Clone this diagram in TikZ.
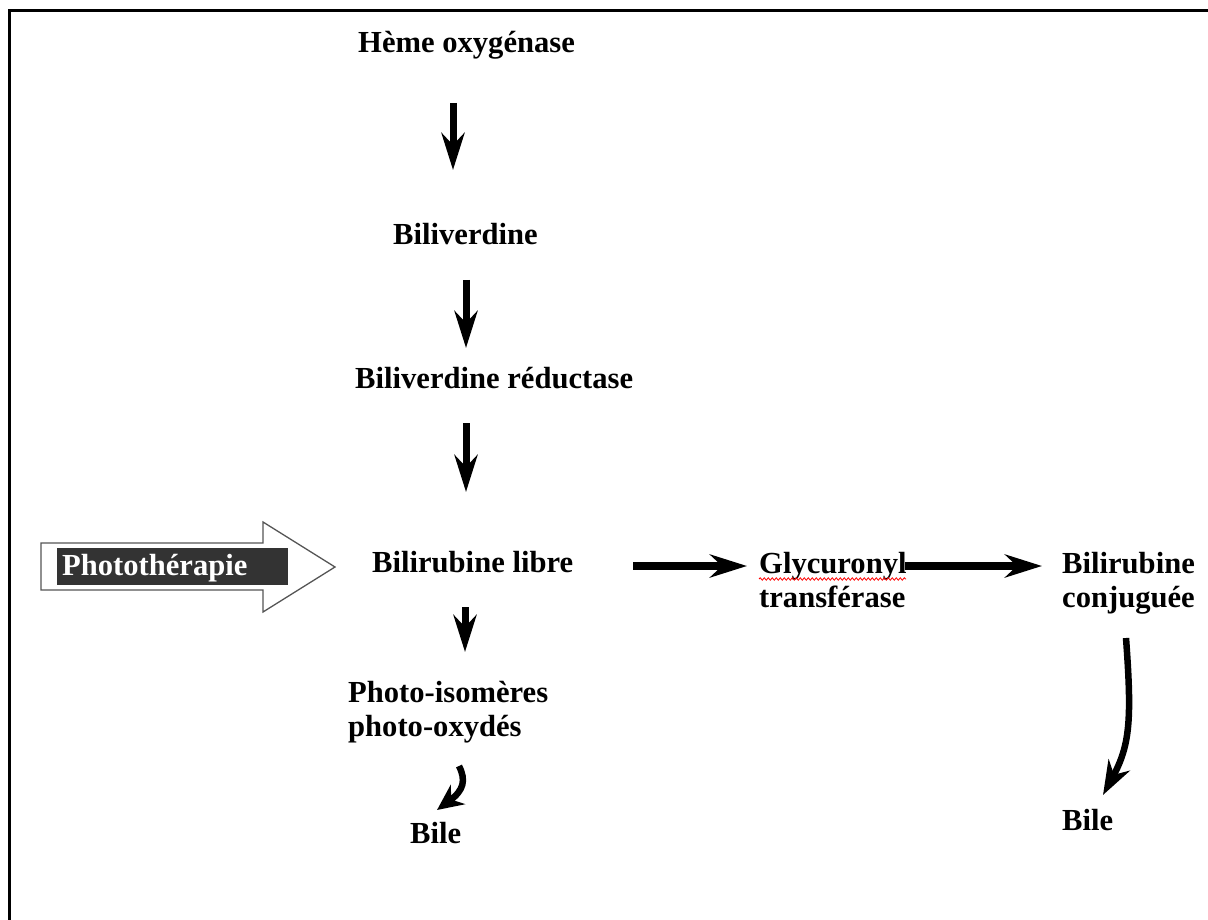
\documentclass[tikz,border=0pt]{standalone}
\usepackage{fontspec}
\setmainfont{Liberation Serif}
\usetikzlibrary{arrows.meta,decorations.pathmorphing}
\definecolor{darkbg}{HTML}{333333}
\definecolor{arrowgray}{HTML}{555555}
\tikzset{
  lbl/.style={font=\fontsize{30.6}{34}\selectfont\bfseries, inner sep=0pt, anchor=base west, align=left},
  lbltwo/.style={font=\fontsize{30.6}{34}\selectfont\bfseries, inner sep=0pt, anchor=north west, align=left},
  vflow/.style={line width=7pt, -{Stealth[length=37pt,width=23pt]}},
  hflow/.style={line width=8pt, -{Stealth[length=37pt,width=23pt]}},
  curveflow/.style={line width=6.5pt, -{Stealth[length=34pt,width=24pt]}},
  spell/.style={red, line width=0.8pt, decorate, decoration={snake, amplitude=1.2pt, segment length=4pt}}
}
\begin{document}
\begin{tikzpicture}[x=1pt,y=-1pt]
\useasboundingbox (0,0) rectangle (1208,920);
% frame (top and left edges)
\draw[line width=3pt] (9,920) -- (9,10.5) -- (1208,10.5);

% labels
\node[lbl] (hem) at (358,53) {Hème oxygénase};
\node[lbl] (bv) at (393,245) {Biliverdine};
\node[lbl] (bvr) at (355,388) {Biliverdine réductase};
\node[lbl] (bl) at (372,572) {Bilirubine libre};
\node[lbltwo] (pi) at (348,678) {\strut Photo-isomères\\photo-oxydés};
\node[lbl] (bile1) at (410,843) {Bile};
\node[lbltwo] (gt) at (759,549) {\strut Glycuronyl\\transférase};
\node[lbltwo] (bc) at (1062,549) {\strut Bilirubine\\conjuguée};
\node[lbl] (bile2) at (1062,830) {Bile};

% spell-check underline
\draw[spell] (759,579) -- (906,579);

% connector end points
\coordinate (a1s) at (453,103); \coordinate (a1e) at (453,170);
\coordinate (a2s) at (466,280); \coordinate (a2e) at (466,348);
\coordinate (a3s) at (466,423); \coordinate (a3e) at (466,492);
\coordinate (a4s) at (465,607); \coordinate (a4e) at (465,652);
\coordinate (h1s) at (633,566); \coordinate (h1e) at (747,566);
\coordinate (h2s) at (905,566); \coordinate (h2e) at (1042,566);
\coordinate (c1s) at (459,766); \coordinate (c1e) at (437,810);
\coordinate (c2s) at (1126,638); \coordinate (c2e) at (1103,795);

\draw[vflow] (a1s) -- (a1e);
\draw[vflow] (a2s) -- (a2e);
\draw[vflow] (a3s) -- (a3e);
\draw[vflow] (a4s) -- (a4e);
\draw[hflow] (h1s) -- (h1e);
\draw[hflow] (h2s) -- (h2e);
\draw[line width=6.5pt, -{Stealth[length=26pt,width=24pt]}] (c1s) .. controls (466,780) and (464,790) .. (c1e);
\draw[curveflow] (c2s) .. controls (1132,720) and (1130,745) .. (c2e);

% phototherapy block arrow
\draw[arrowgray, line width=1.3pt, fill=white]
  (41,543) -- (263,543) -- (263,522) -- (335,567) -- (263,612) -- (263,590) -- (41,590) -- cycle;
\fill[darkbg] (57,548) rectangle (288,585);
\node[lbl, text=white] (photo) at (62,575) {Photothérapie};
\end{tikzpicture}
\end{document}
